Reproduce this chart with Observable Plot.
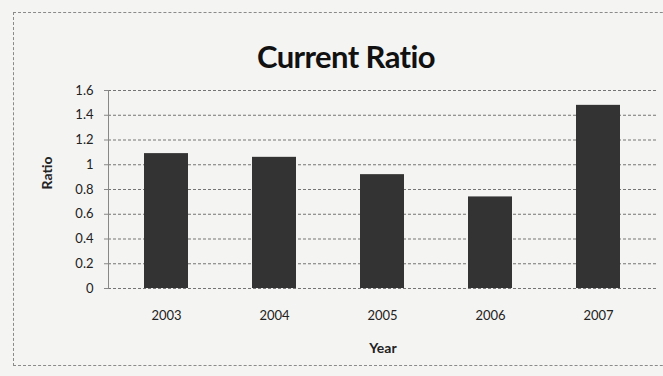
<!DOCTYPE html>
<html>
<head>
<meta charset="utf-8">
<script src="https://cdn.jsdelivr.net/npm/d3@7"></script>
<script src="https://cdn.jsdelivr.net/npm/@observablehq/plot@0.6"></script>
<style>
  html, body { margin: 0; padding: 0; background: #f4f4f2; }
  #wrap { position: relative; width: 663px; height: 376px; overflow: hidden; font-family: Lato, "Open Sans", sans-serif; }
  #frame { position: absolute; left: 13px; top: 12px; width: 720px; height: 354px; border: 1px dashed #8a8a8a; box-sizing: border-box; }
  #title { position: absolute; left: 0; top: 37px; width: 692px; text-align: center; font-weight: bold; font-size: 31px; color: #111; letter-spacing: -0.6px; }
  #chart { position: absolute; left: 0; top: 0; }
</style>
</head>
<body>
<div id="wrap">
  <div id="frame"></div>
  <div id="title">Current Ratio</div>
  <div id="chart"></div>
</div>
<script>
const years = ["2003", "2004", "2005", "2006", "2007"];
const ratios = [1.09, 1.06, 0.92, 0.74, 1.48];
const yTicks = [0, 0.2, 0.4, 0.6, 0.8, 1, 1.2, 1.4, 1.6];
const yLabel = "Ratio";
const xLabel = "Year";

const data = years.map((y, i) => ({year: y, ratio: ratios[i]}));

const chart = Plot.plot({
  width: 663,
  height: 376,
  marginLeft: 108,
  marginRight: 6,
  marginTop: 90,
  marginBottom: 88,
  style: {background: "transparent", fontFamily: "Lato, 'Open Sans', sans-serif", color: "#222"},
  x: {domain: years, paddingInner: 0.59, paddingOuter: 0.33},
  y: {domain: [0, 1.6], ticks: yTicks},
  marks: [
    Plot.gridY(yTicks, {stroke: "#666", strokeOpacity: 0.9, strokeDasharray: "3,2"}),
    Plot.barY(data, {x: "year", y: "ratio", fill: "#333"}),
    Plot.frame({anchor: "left", stroke: "#888"}),
    Plot.axisY(yTicks, {tickSize: 4, tickPadding: 11, fontSize: 13, stroke: "#888", label: null,
      tickFormat: d => String(+d.toFixed(1))}),
    Plot.axisX({tickSize: 0, tickPadding: 22, fontSize: 13, label: null}),
    Plot.text([xLabel], {frameAnchor: "bottom", dy: 64, fontWeight: "bold", fontSize: 14}),
    Plot.text([yLabel], {frameAnchor: "left", dx: -61, rotate: -90, fontWeight: "bold", fontSize: 14})
  ]
});
document.getElementById("chart").appendChild(chart);
</script>
</body>
</html>
